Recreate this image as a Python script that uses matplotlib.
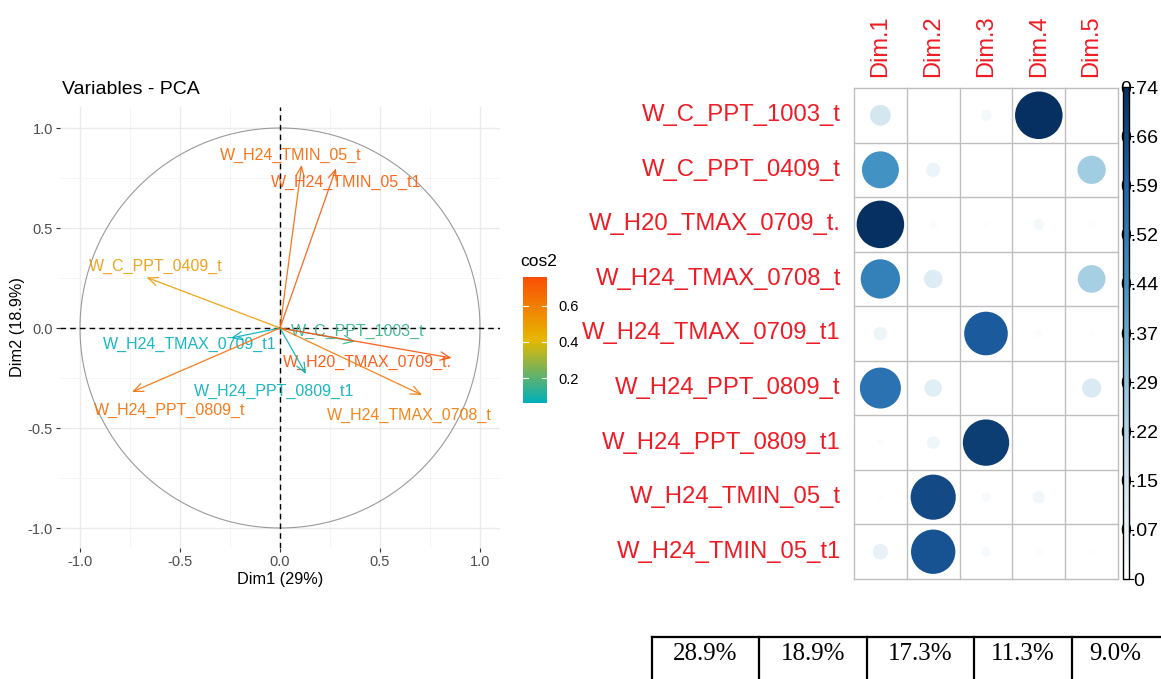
import numpy as np
import matplotlib
matplotlib.use('Agg')
import matplotlib.pyplot as plt
from matplotlib.colors import LinearSegmentedColormap, Normalize
from matplotlib.patches import Ellipse, Rectangle

plt.rcParams['font.family'] = ['Liberation Sans', 'DejaVu Sans']

# variables (same order as the corrplot rows)
variables = ['W_C_PPT_1003_t', 'W_C_PPT_0409_t', 'W_H20_TMAX_0709_t.',
             'W_H24_TMAX_0708_t', 'W_H24_TMAX_0709_t1', 'W_H24_PPT_0809_t',
             'W_H24_PPT_0809_t1', 'W_H24_TMIN_05_t', 'W_H24_TMIN_05_t1']

# coordinates on the correlation circle
dim1 = [0.375, -0.667, 0.858, 0.71, -0.245, -0.74, 0.13, 0.108, 0.28]
dim2 = [-0.068, 0.253, -0.15, -0.335, -0.05, -0.32, -0.23, 0.815, 0.798]

# cos2 of each variable on Dim.1 .. Dim.5
dims = ['Dim.1', 'Dim.2', 'Dim.3', 'Dim.4', 'Dim.5']
cos2_c_ppt_1003 = [0.14, 0.005, 0.04, 0.736, 0.0]
cos2_c_ppt_0409 = [0.445, 0.065, 0.0, 0.005, 0.26]
cos2_h20_tmax_0709 = [0.736, 0.022, 0.01, 0.04, 0.02]
cos2_h24_tmax_0708 = [0.504, 0.112, 0.005, 0.005, 0.25]
cos2_h24_tmax_0709_t1 = [0.06, 0.003, 0.62, 0.02, 0.01]
cos2_h24_ppt_0809 = [0.548, 0.10, 0.0, 0.0, 0.12]
cos2_h24_ppt_0809_t1 = [0.017, 0.053, 0.70, 0.005, 0.0]
cos2_h24_tmin_05 = [0.012, 0.664, 0.03, 0.05, 0.005]
cos2_h24_tmin_05_t1 = [0.078, 0.64, 0.03, 0.02, 0.01]

# percentage of variance per dimension
var_explained = [28.9, 18.9, 17.3, 11.3, 9.0]

cos2 = np.array([cos2_c_ppt_1003, cos2_c_ppt_0409, cos2_h20_tmax_0709,
                 cos2_h24_tmax_0708, cos2_h24_tmax_0709_t1, cos2_h24_ppt_0809,
                 cos2_h24_ppt_0809_t1, cos2_h24_tmin_05, cos2_h24_tmin_05_t1])

W, H = 1161, 679
fig = plt.figure(figsize=(W / 100, H / 100), dpi=100)


def box(x0, y0, x1, y1):
    # pixel box -> figure fraction
    return [x0 / W, 1 - y1 / H, (x1 - x0) / W, (y1 - y0) / H]


# ---------------- PCA correlation circle ----------------
ax = fig.add_axes(box(60, 107, 500, 548))
ax.set_xlim(-1.1, 1.1)
ax.set_ylim(-1.1, 1.105)
for s in ax.spines.values():
    s.set_visible(False)
ax.set_xticks([-1, -0.5, 0, 0.5, 1])
ax.set_yticks([-1, -0.5, 0, 0.5, 1])
ax.set_xticklabels(['-1.0', '-0.5', '0.0', '0.5', '1.0'])
ax.set_yticklabels(['-1.0', '-0.5', '0.0', '0.5', '1.0'])
ax.set_xticks([-0.75, -0.25, 0.25, 0.75], minor=True)
ax.set_yticks([-0.75, -0.25, 0.25, 0.75], minor=True)
ax.tick_params(which='major', length=3, width=0.8, color='#333333',
               labelcolor='#4D4D4D', labelsize=10.5, pad=2)
ax.tick_params(which='minor', length=0)
ax.grid(which='major', color='#EBEBEB', lw=1.0)
ax.grid(which='minor', color='#F4F4F4', lw=0.6)
ax.set_axisbelow(True)

th = np.linspace(0, 2 * np.pi, 400)
ax.plot(np.cos(th), np.sin(th), color='#9A9A9A', lw=0.8)
ax.axhline(0, color='black', lw=1, ls=(0, (4, 3)))
ax.axvline(0, color='black', lw=1, ls=(0, (4, 3)))

cos2_12 = np.array(dim1) ** 2 + np.array(dim2) ** 2
pca_cmap = LinearSegmentedColormap.from_list('cos2', ['#00AFBB', '#E7B800', '#FC4E07'])
pca_norm = Normalize(cos2_12.min(), cos2_12.max())

# label offsets from arrow tips (repelled labels)
label_off = [(0.015, 0.05), (0.047, 0.054), (-0.42, -0.02), (-0.065, -0.1),
             (-0.205, -0.03), (0.19, -0.09), (-0.16, -0.085), (-0.053, 0.05),
             (0.053, -0.068)]

for name, x, y, c2, off in zip(variables, dim1, dim2, cos2_12, label_off):
    col = pca_cmap(pca_norm(c2))
    ax.annotate('', xy=(x, y), xytext=(0, 0),
                arrowprops=dict(arrowstyle='->,head_length=0.7,head_width=0.3',
                                color=col, lw=0.9, alpha=0.9,
                                shrinkA=0, shrinkB=0))
    ax.text(x + off[0], y + off[1], name, color=col, alpha=0.9, fontsize=11.5,
            ha='center', va='center')

ax.set_xlabel('Dim1 (29%)', fontsize=11.7, labelpad=2)
ax.set_ylabel('Dim2 (18.9%)', fontsize=11.7, labelpad=2)
fig.text(62 / W, 1 - 90 / H, 'Variables - PCA', fontsize=14, va='center')

# cos2 legend
fig.text(520 / W, 1 - 262 / H, 'cos2', fontsize=12.5, va='center')
cax = fig.add_axes(box(523, 277, 547, 403))
grad = np.linspace(pca_norm.vmin, pca_norm.vmax, 256)[:, None]
cax.imshow(grad, cmap=pca_cmap, norm=pca_norm, aspect='auto', origin='lower',
           extent=[0, 1, pca_norm.vmin, pca_norm.vmax])
cax.set_xlim(0, 1)
cax.set_ylim(pca_norm.vmin, pca_norm.vmax)
cax.set_xticks([])
cax.yaxis.tick_right()
cax.set_yticks([0.2, 0.4, 0.6])
cax.set_yticklabels(['0.2', '0.4', '0.6'])
cax.tick_params(axis='y', length=0, labelsize=10.5, pad=8)
for t in [0.2, 0.4, 0.6]:
    cax.plot([0, 0.2], [t, t], color='white', lw=0.8)
    cax.plot([0.8, 1], [t, t], color='white', lw=0.8)
for s in cax.spines.values():
    s.set_visible(False)

# ---------------- corrplot of cos2 ----------------
vmax = cos2.max()
cp_cmap = LinearSegmentedColormap.from_list(
    'blues', ['#FFFFFF', '#D1E5F0', '#92C5DE', '#4393C3', '#2166AC', '#053061'])
cp_norm = Normalize(0, vmax)

gx0, gy0, gx1, gy1 = 854, 88, 1118, 579
ax2 = fig.add_axes(box(gx0, gy0, gx1, gy1))
nr, nc = cos2.shape
ax2.set_xlim(0.5, nc + 0.5)
ax2.set_ylim(nr + 0.5, 0.5)
ax2.axis('off')
cell_w = (gx1 - gx0) / nc
cell_h = (gy1 - gy0) / nr
for i in range(nr):
    for j in range(nc):
        v = cos2[i, j]
        r = 0.45 * np.sqrt(v / vmax)
        if r > 0.01:
            ax2.add_patch(Ellipse((j + 1, i + 1), 2 * r, 2 * r * cell_w / cell_h,
                                  facecolor=cp_cmap(cp_norm(v)), edgecolor='none'))
for k in range(nc + 1):
    ax2.plot([k + 0.5, k + 0.5], [0.5, nr + 0.5], color='#BEBEBE', lw=1,
             clip_on=False)
for k in range(nr + 1):
    ax2.plot([0.5, nc + 0.5], [k + 0.5, k + 0.5], color='#BEBEBE', lw=1,
             clip_on=False)
for i, name in enumerate(variables):
    ax2.text(0.5 - 0.25, i + 1, name, color='#EE1C25', fontsize=17.2,
             ha='right', va='center')
for j, d in enumerate(dims):
    ax2.text(j + 1, 0.29, d, color='#EE1C25', fontsize=17, rotation=90,
             ha='center', va='bottom')

# corrplot colour legend
lax = fig.add_axes(box(1119, 80, 1161, 592))
lax.set_xlim(1119, 1161)
lax.set_ylim(592, 80)
lax.axis('off')
by0, by1 = 87, 579
cb_ticks = np.linspace(0, vmax, 11)
for t in cb_ticks:
    yy = by1 - (by1 - by0) * t / vmax
    lab = '0' if t == 0 else '%.2f' % t
    lax.text(1139, yy + 2, lab, fontsize=14, ha='center', va='center', zorder=1)
    lax.plot([1129, 1133], [yy, yy], color='black', lw=0.8, zorder=3)
grad2 = np.linspace(0, vmax, 256)[:, None]
lax.imshow(grad2, cmap=cp_cmap, norm=cp_norm, aspect='auto', origin='lower',
           extent=[1123, 1129, by1, by0], zorder=2)
lax.add_patch(Rectangle((1123, by0), 6, by1 - by0, fill=False,
                        edgecolor='black', lw=1, zorder=3))
lax.set_xlim(1119, 1161)
lax.set_ylim(592, 80)

# ---------------- variance table ----------------
tax = fig.add_axes([0, 0, 1, 1], zorder=-1)
tax.set_xlim(0, W)
tax.set_ylim(H, 0)
tax.axis('off')
col_edges = [652, 759, 867, 974, 1072, 1180]
tax.plot([col_edges[0], W + 5], [637, 637], color='black', lw=1.6)
for xe in col_edges[:-1]:
    tax.plot([xe, xe], [637, H + 5], color='black', lw=1.6)
for k, v in enumerate(var_explained):
    xc = (col_edges[k] + min(col_edges[k + 1], 1158)) / 2
    tax.text(xc, 654, '%.1f%%' % v, family='Liberation Serif', fontsize=18,
             ha='center', va='center')

fig.savefig('out.png', dpi=100)
